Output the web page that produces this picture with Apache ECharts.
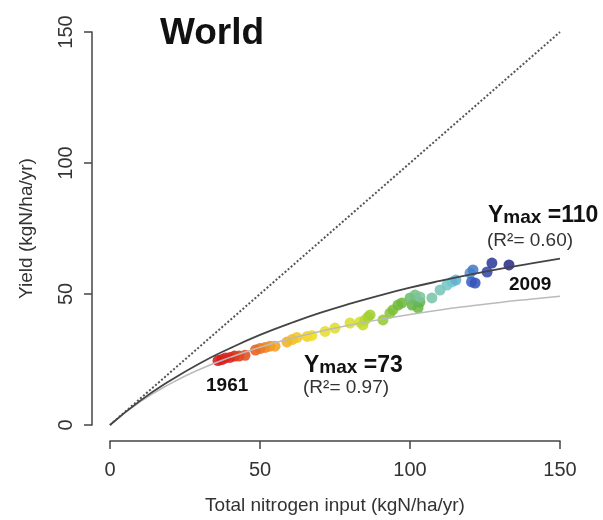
<!DOCTYPE html>
<html>
<head>
<meta charset="utf-8">
<script src="https://cdn.jsdelivr.net/npm/echarts@6/dist/echarts.min.js"></script>
<style>
  html, body { margin: 0; padding: 0; background: #fff; }
</style>
</head>
<body>
<div id="chart" style="width: 603px;height: 520px;"></div>
<script>
// 年份 / 总氮输入 / 产量
var years = [1961, 1962, 1963, 1964, 1965, 1966, 1967, 1968, 1969, 1970,
             1971, 1972, 1973, 1974, 1975, 1976, 1977, 1978, 1979, 1980,
             1981, 1982, 1983, 1984, 1985, 1986, 1987, 1988, 1989, 1990,
             1991, 1992, 1993, 1994, 1995, 1996, 1997, 1998, 1999, 2000,
             2001, 2002, 2003, 2004, 2005, 2006, 2007, 2008, 2009]
var nInput = [36.0, 37.3, 38.5, 40.0, 41.5, 43.0, 45.0, 48.5, 50.0, 51.7,
              53.3, 55.0, 59.0, 60.7, 62.3, 65.7, 67.3, 71.7, 75.0, 80.0,
              83.3, 84.3, 85.0, 86.0, 86.7, 91.0, 93.3, 94.3, 96.0, 97.3,
              102.7, 100.7, 103.3, 102.0, 100.0, 101.7, 103.3, 107.3, 110.0, 112.3,
              114.0, 115.3, 120.0, 121.0, 120.5, 121.7, 125.7, 127.3, 133.0]
var yieldVals = [24.6, 25.0, 25.6, 25.8, 26.3, 26.3, 26.6, 28.6, 29.2, 29.6,
                 30.1, 30.1, 31.7, 32.6, 33.4, 33.8, 34.2, 35.7, 37.0, 38.9,
                 39.3, 38.2, 40.1, 41.2, 42.0, 40.1, 42.7, 43.9, 45.8, 46.6,
                 44.7, 45.8, 46.9, 47.7, 48.5, 49.6, 48.9, 48.5, 51.5, 53.4,
                 54.6, 55.3, 58.0, 59.2, 54.6, 54.2, 58.4, 61.8, 61.1]

// 拟合曲线
var curveX = [0, 10, 20, 30, 40, 50, 60, 70, 80, 90, 100, 110, 120, 130, 140, 150]
var curve110 = [0, 9.2, 16.9, 23.6, 29.3, 34.4, 38.8, 42.8, 46.3, 49.5, 52.4, 55.0, 57.4, 59.6, 61.6, 63.5]
var curve73 = [0, 8.8, 15.7, 21.3, 25.8, 29.7, 32.9, 35.7, 38.2, 40.3, 42.2, 43.9, 45.4, 46.8, 48.0, 49.1]
var oneToOneX = [0, 150]
var oneToOneY = [0, 150]

var ticks = [0, 50, 100, 150]

var yearColors = ['#d7191c', '#dc2a1e', '#ec7020', '#f5b025', '#f1dc26', '#cfe02c', '#a2d033',
                  '#72bc3c', '#62b44a', '#80c49c', '#72c8d2', '#3a62c8', '#2b2f8c']

var font = 'Liberation Sans, Arial, sans-serif'

var pts = years.map(function (y, i) { return [nInput[i], yieldVals[i], y] })
var pair = function (xs, ys) { return xs.map(function (x, i) { return [x, ys[i]] }) }

var axisCommon = {
    type: 'value',
    min: 0,
    max: 150,
    interval: 50,
    splitLine: { show: false },
    axisLine: { show: true, onZero: false, lineStyle: { color: '#444', width: 1.5 } },
    axisTick: { show: true, length: 8, lineStyle: { color: '#444', width: 1.5 } },
    nameTextStyle: { fontFamily: font, fontSize: 19, color: '#333' }
}

var option = {
    animation: false,
    grid: { left: 110, right: 43, top: 32, bottom: 95, containLabel: false, outerBoundsMode: 'none' },
    xAxis: Object.assign({}, axisCommon, {
        offset: 16,
        name: 'Total nitrogen input (kgN/ha/yr)',
        nameLocation: 'middle',
        nameGap: 55,
        axisLabel: { fontFamily: font, fontSize: 20, color: '#333', margin: 19,
            formatter: function (v) { return ticks.indexOf(v) >= 0 ? String(v) : '' } }
    }),
    yAxis: Object.assign({}, axisCommon, {
        offset: 18,
        name: 'Yield (kgN/ha/yr)',
        nameLocation: 'middle',
        nameGap: 56,
        axisLabel: { fontFamily: font, fontSize: 20, color: '#333', margin: 16, rotate: 90,
            formatter: function (v) { return ticks.indexOf(v) >= 0 ? String(v) : '' } }
    }),
    visualMap: {
        show: false,
        type: 'continuous',
        seriesIndex: 3,
        dimension: 2,
        min: 1961,
        max: 2009,
        inRange: { color: yearColors }
    },
    series: [
        {
            type: 'line',
            data: pair(oneToOneX, oneToOneY),
            symbol: 'none',
            lineStyle: { type: 'dotted', color: '#555', width: 2 }
        },
        {
            type: 'line',
            data: pair(curveX, curve73),
            symbol: 'none',
            smooth: true,
            lineStyle: { color: '#bbb', width: 1.5 }
        },
        {
            type: 'line',
            data: pair(curveX, curve110),
            symbol: 'none',
            smooth: true,
            lineStyle: { color: '#444', width: 1.8 }
        },
        {
            type: 'scatter',
            data: pts,
            symbolSize: 11,
            itemStyle: { opacity: 0.88 }
        }
    ],
    graphic: [
        { type: 'text', x: 160, y: 34, style: { text: 'World', font: 'bold 37px ' + font, fill: '#111', verticalAlign: 'middle' } },
        { type: 'text', x: 304, y: 366, style: {
            text: '{a|Y}{b|max}{a| =73}', verticalAlign: 'middle',
            rich: { a: { font: 'bold 23px ' + font, fill: '#111', verticalAlign: 'bottom' },
                    b: { font: 'bold 19px ' + font, fill: '#111', verticalAlign: 'bottom' } } } },
        { type: 'text', x: 303, y: 388, style: { text: '(R²= 0.97)', font: '19px ' + font, fill: '#333', verticalAlign: 'middle' } },
        { type: 'text', x: 488, y: 216, style: {
            text: '{a|Y}{b|max}{a| =110}', verticalAlign: 'middle',
            rich: { a: { font: 'bold 23px ' + font, fill: '#111', verticalAlign: 'bottom' },
                    b: { font: 'bold 19px ' + font, fill: '#111', verticalAlign: 'bottom' } } } },
        { type: 'text', x: 487, y: 241, style: { text: '(R²= 0.60)', font: '19px ' + font, fill: '#333', verticalAlign: 'middle' } },
        { type: 'text', x: 206, y: 386, style: { text: '1961', font: 'bold 19px ' + font, fill: '#111', verticalAlign: 'middle' } },
        { type: 'text', x: 509, y: 285, style: { text: '2009', font: 'bold 19px ' + font, fill: '#111', verticalAlign: 'middle' } }
    ]
}

echarts.init(document.getElementById('chart')).setOption(option)
</script>
</body>
</html>
